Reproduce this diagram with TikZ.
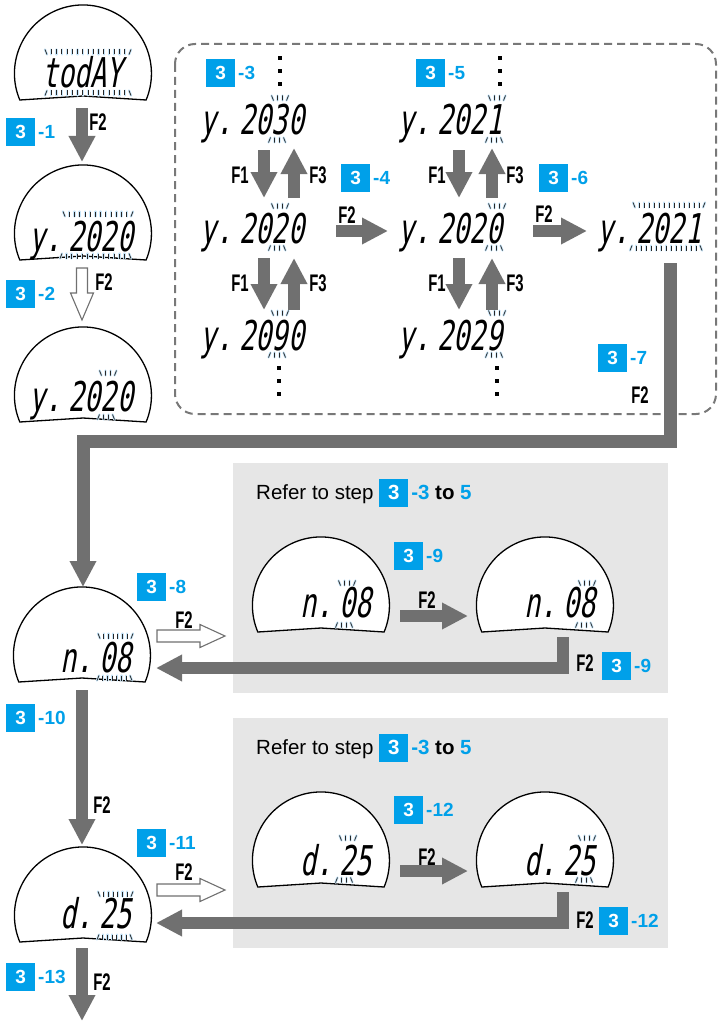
\documentclass[tikz,border=0pt]{standalone}
\usepackage{fontspec}
\setmainfont{Liberation Sans}
\newfontfamily\lcdf[FakeSlant=0.18,FakeStretch=0.655,WordSpace=0.1]{DejaVu Sans Mono}
\newfontfamily\condf[FakeStretch=0.62]{Liberation Sans}
\usetikzlibrary{arrows.meta}
\definecolor{sblue}{RGB}{0,160,233}
\definecolor{agray}{RGB}{112,112,112}
\definecolor{pgray}{RGB}{230,230,230}
\definecolor{dgray}{RGB}{120,120,120}
\definecolor{halo}{RGB}{200,230,250}
\newcommand\bdg{{\setlength{\fboxsep}{0pt}\colorbox{sblue}{\makebox[29pt]{\rule[-7.5pt]{0pt}{28pt}\textcolor{white}{\bfseries 3}}}}}
\newcommand\stp[1]{\bdg\hspace{3pt}\textcolor{sblue}{\bfseries #1}}
\newcommand\brow[5]{%
  \foreach \s in {tkh,tk}{%
    \draw[\s] ({#1},{#3-(#4)}) -- ({#1+2},{#3+(#4)});
    \draw[\s] ({#2},{#3-(#4)}) -- ({#2-2},{#3+(#4)});
    \foreach \k in {1,...,#5}{\draw[\s] ({#1+1+\k*(#2-#1-2)/(#5+1)},{#3-2.5}) -- ++(0,5);}
  }}
\tikzset{
  tkh/.style={line width=2.4pt, halo, line cap=round},
  tk/.style={line width=0.75pt, black!85},
  bt/.pic={\foreach \s in {tkh,tk}{\draw[\s] (-8.5,-2.5)--(-6.5,2.5) (-2.5,-2.5)--(-2.5,2.5) (2.5,-2.5)--(2.5,2.5) (8.5,-2.5)--(6.5,2.5);}},
  bb/.pic={\foreach \s in {tkh,tk}{\draw[\s] (-8.5,2.5)--(-6.5,-2.5) (-2.5,-2.5)--(-2.5,2.5) (2.5,-2.5)--(2.5,2.5) (8.5,2.5)--(6.5,-2.5);}},
  dome/.pic={\draw[line width=1.3pt, fill=white] (-63.2,0) arc[start angle=157.2, end angle=382.8, radius=68.5] -- (0,-4) -- cycle;
    \coordinate (-top) at (0,-95); \coordinate (-bot) at (0,-3);},
  hr/.pic={\draw[agray, line width=1.1pt, fill=white, line join=miter] (0,-6) -- (43,-6) -- (43,-11.5) -- (68,0) -- (43,11.5) -- (43,6) -- (0,6) -- cycle;},
  hd/.pic={\draw[agray, line width=1.1pt, fill=white, line join=miter] (-5.5,0) -- (-5.5,25) -- (-11.5,25) -- (0,52) -- (11.5,25) -- (5.5,25) -- (5.5,0) -- cycle;},
  lcd/.style={font=\lcdf\fontsize{41}{41}\selectfont, inner sep=0pt, anchor=base west},
  flab/.style={font=\condf\bfseries\fontsize{24}{24}\selectfont, inner sep=0pt},
  stpn/.style={font=\fontsize{19}{19}\selectfont, inner sep=0pt, anchor=west},
  refer/.style={font=\fontsize{20.5}{20.5}\selectfont, inner sep=0pt, anchor=base west},
  garrow/.style={agray, line width=12pt, line join=miter, -{Triangle[width=25pt,length=26pt]}},
  sqdot/.style={fill=black, rectangle, minimum size=4.5pt, inner sep=0pt},
}
\begin{document}
\begin{tikzpicture}[x=1pt,y=-1pt]
\useasboundingbox (0,0) rectangle (721,1022);
% panels and dashed frame
\fill[pgray] (233,463) rectangle (668,693);
\fill[pgray] (233,718) rectangle (668,948);
\draw[dgray, line width=2pt, dash pattern=on 8pt off 5pt, rounded corners=20pt] (175,44) rectangle (716,414);

% domes
\pic (dA) at (83,100) {dome};
\pic (dB) at (83,260) {dome};
\pic (dC) at (83,422) {dome};
\pic (dN) at (82,682) {dome};
\pic (dD) at (83,942) {dome};
\pic (n1) at (321,632) {dome};
\pic (n2) at (545,632) {dome};
\pic (e1) at (321,887) {dome};
\pic (e2) at (545,887) {dome};

% LCD texts
\node[lcd] (tA) at (42,88) {todAY};
\node[lcd] (tB) at (29,251) {y. 2020};
\node[lcd] (tC) at (29,411) {y. 2020};
\node[lcd] (y1) at (200,135) {y. 2030};
\node[lcd] (y2) at (200,243) {y. 2020};
\node[lcd] (y3) at (200,350) {y. 2090};
\node[lcd] (z1) at (398,135) {y. 2021};
\node[lcd] (z2) at (398,243) {y. 2020};
\node[lcd] (z3) at (398,350) {y. 2029};
\node[lcd] (w1) at (597,243) {y. 2021};
\node[lcd] (tN) at (60,672) {n. 08};
\node[lcd] (tn1) at (300,617) {n. 08};
\node[lcd] (tn2) at (524,617) {n. 08};
\node[lcd] (tD) at (60,928) {d. 25};
\node[lcd] (td1) at (300,875) {d. 25};
\node[lcd] (td2) at (524,875) {d. 25};

% blink marks
\brow{45}{131}{52}{2.5}{15}
\brow{45}{131}{93}{-2.5}{15}
\brow{63}{133}{214}{2.5}{12}
\brow{60}{131}{256}{-2.5}{12}
\pic at (108,373) {bt}; \pic at (106,417) {bb};
\pic at (280,98) {bt}; \pic at (277,140) {bb};
\pic at (280,206) {bt}; \pic at (277,248) {bb};
\pic at (280,313) {bt}; \pic at (277,355) {bb};
\pic at (497,98) {bt}; \pic at (494,140) {bb};
\pic at (497,206) {bt}; \pic at (494,248) {bb};
\pic at (497,313) {bt}; \pic at (494,355) {bb};
\brow{633}{705}{205}{2.5}{13}
\brow{630}{702}{248}{-2.5}{13}
\brow{98}{133}{636}{2.5}{6}
\brow{97}{132}{678}{-2.5}{6}
\pic at (347,583) {bt}; \pic at (344,625) {bb};
\pic at (587,583) {bt}; \pic at (584,625) {bb};
\brow{98}{133}{894}{2.5}{6}
\brow{97}{132}{937}{-2.5}{6}
\pic at (348,838) {bt}; \pic at (344,880) {bb};
\pic at (587,838) {bt}; \pic at (584,880) {bb};

% dots
\foreach \yy in {58,71,84} {\node[sqdot] at (280,\yy) {}; \node[sqdot] at (500,\yy) {};}
\foreach \yy in {368,381,394} {\node[sqdot] at (279,\yy) {}; \node[sqdot] at (497,\yy) {};}

% step badges
\node[stpn] (s1) at (6,132) {\stp{-1}};
\node[stpn] (s2) at (6,294) {\stp{-2}};
\node[stpn] (s3) at (206,73) {\stp{-3}};
\node[stpn] (s4) at (341,178) {\stp{-4}};
\node[stpn] (s5) at (416,73) {\stp{-5}};
\node[stpn] (s6) at (539,178) {\stp{-6}};
\node[stpn] (s7) at (598,358) {\stp{-7}};
\node[stpn] (s8) at (137,587) {\stp{-8}};
\node[stpn] (s9a) at (394,556) {\stp{-9}};
\node[stpn] (s9b) at (602,666) {\stp{-9}};
\node[stpn] (s10) at (6,718) {\stp{-10}};
\node[stpn] (s11) at (137,843) {\stp{-11}};
\node[stpn] (s12a) at (394,810) {\stp{-12}};
\node[stpn] (s12b) at (599,921) {\stp{-12}};
\node[stpn] (s13) at (6,977) {\stp{-13}};

% refer texts
\node[refer] (r1) at (256,499) {Refer to step \stp{-3} \textbf{to} \textcolor{sblue}{\bfseries 5}};
\node[refer] (r2) at (256,754) {Refer to step \stp{-3} \textbf{to} \textcolor{sblue}{\bfseries 5}};

% key labels
\node[flab] (k1) at (98,122) {F2};
\node[flab] (k2) at (104,282) {F2};
\node[flab] (k3) at (240,175) {F1};
\node[flab] (k4) at (318,175) {F3};
\node[flab] (k5) at (240,283) {F1};
\node[flab] (k6) at (318,283) {F3};
\node[flab] (k7) at (437,175) {F1};
\node[flab] (k8) at (515,175) {F3};
\node[flab] (k9) at (437,283) {F1};
\node[flab] (k10) at (515,283) {F3};
\node[flab] (k11) at (347,215) {F2};
\node[flab] (k12) at (544,214) {F2};
\node[flab] (k13) at (640,395) {F2};
\node[flab] (k14) at (184,620) {F2};
\node[flab] (k15) at (427,600) {F2};
\node[flab] (k16) at (585,663) {F2};
\node[flab] (k17) at (102,805) {F2};
\node[flab] (k18) at (184,872) {F2};
\node[flab] (k19) at (427,857) {F2};
\node[flab] (k20) at (585,920) {F2};
\node[flab] (k21) at (102,982) {F2};

% arrow end points
\coordinate (a1s) at (82,108); \coordinate (a1e) at (82,162);
\coordinate (c1a) at (264,150); \coordinate (c1b) at (264,198);
\coordinate (c2a) at (294,198); \coordinate (c2b) at (294,148);
\coordinate (c3a) at (264,258); \coordinate (c3b) at (264,310);
\coordinate (c4a) at (294,310); \coordinate (c4b) at (294,258);
\coordinate (c5a) at (459,150); \coordinate (c5b) at (459,198);
\coordinate (c6a) at (492,198); \coordinate (c6b) at (492,148);
\coordinate (c7a) at (459,258); \coordinate (c7b) at (459,310);
\coordinate (c8a) at (492,310); \coordinate (c8b) at (492,258);
\coordinate (h4a) at (336,231); \coordinate (h4b) at (388,231);
\coordinate (h6a) at (533,231); \coordinate (h6b) at (587,231);
\coordinate (L0) at (670,263); \coordinate (L1) at (670,441); \coordinate (L2) at (83,441); \coordinate (L3) at (83,587);
\coordinate (p9a) at (400,616); \coordinate (p9b) at (468,616);
\coordinate (q9a) at (563,637); \coordinate (q9b) at (156,668);
\coordinate (a10s) at (82,690); \coordinate (a10e) at (82,845);
\coordinate (p12a) at (400,871); \coordinate (p12b) at (468,871);
\coordinate (q12a) at (563,892); \coordinate (q12b) at (156,923);
\coordinate (a13s) at (82,948); \coordinate (a13e) at (82,1021);

% arrows
\draw[garrow] (a1s) -- (a1e);
\pic at (82,268) {hd};
\foreach \u/\v in {c1a/c1b,c2a/c2b,c3a/c3b,c4a/c4b,c5a/c5b,c6a/c6b,c7a/c7b,c8a/c8b,h4a/h4b,h6a/h6b,p9a/p9b,a10s/a10e,p12a/p12b,a13s/a13e}
  {\draw[garrow] (\u) -- (\v);}
\draw[garrow, line width=13pt] (L0) -- (L1) -- (L2) -- (L3);
\draw[garrow] (q9a) |- (q9b);
\draw[garrow] (q12a) |- (q12b);
\pic at (157,636) {hr};
\pic at (157,890) {hr};
\end{tikzpicture}
\end{document}
